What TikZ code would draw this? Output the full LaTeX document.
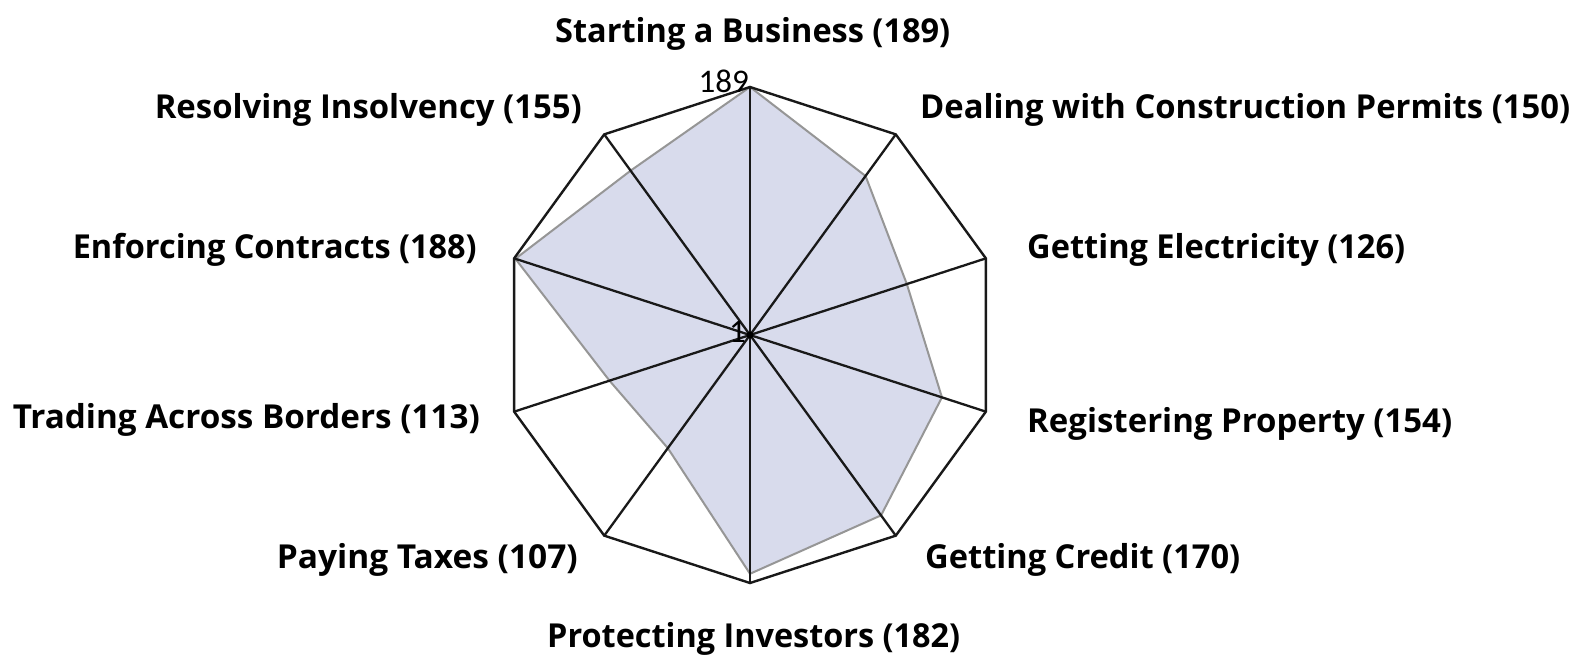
\documentclass[tikz,border=0pt]{standalone}
\usepackage{fontspec}
\usepackage{graphicx}
\newfontfamily\labfont{Open Sans}[UprightFont=* Bold]
\newfontfamily\tickfont{Carlito}
\usetikzlibrary{calc}
\definecolor{datafill}{RGB}{216,219,236}
\definecolor{dataline}{RGB}{150,150,150}
\definecolor{gridline}{RGB}{25,25,25}
\newcommand\fitto[2]{\resizebox{#1pt}{\height}{#2}}
\tikzset{
  lab/.style={inner sep=0pt, font=\labfont\fontsize{33}{38}\selectfont, text=black},
  tick/.style={inner sep=0pt, font=\tickfont\fontsize{33}{36}\selectfont, text=black},
  axis/.style={draw=gridline, line width=2.3pt},
  frame/.style={draw=gridline, line width=2.4pt, line join=miter},
  dataarea/.style={fill=datafill, draw=dataline, line width=2pt, line join=round}
}
\begin{document}
\begin{tikzpicture}[x=1pt,y=-1pt]
\fill[white] (0,0) rectangle (1574,654);
\useasboundingbox (0,0) rectangle (1574,654);
\coordinate (C) at (750,335);
\foreach \k in {0,...,9}
  \coordinate (V\k) at ({750+248*sin(36*\k)},{335-248*cos(36*\k)});
\foreach \v [count=\i from 0] in {189,150,126,154,170,182,107,113,188,155}
  \coordinate (D\i) at ({750+(248/188)*(\v-1)*sin(36*\i)},{335-(248/188)*(\v-1)*cos(36*\i)});
\path[dataarea] (D0) -- (D1) -- (D2) -- (D3) -- (D4) -- (D5) -- (D6) -- (D7) -- (D8) -- (D9) -- cycle;
\foreach \k in {0,...,9} \draw[axis] (C) -- (V\k);
\draw[frame] (V0) -- (V1) -- (V2) -- (V3) -- (V4) -- (V5) -- (V6) -- (V7) -- (V8) -- (V9) -- cycle;
\fill[black] (C) circle (3.5pt);
\node[tick, anchor=base east] (t189) at (749,92) {189};
\node[tick, anchor=east] (t1) at (746,332) {1};
\node[lab, anchor=base west] (L0) at (555,42) {\fitto{395}{Starting a Business (189)}};
\node[lab, anchor=base west] (L1) at (920,118) {\fitto{650}{Dealing with Construction Permits (150)}};
\node[lab, anchor=base west] (L2) at (1027,258) {\fitto{378}{Getting Electricity (126)}};
\node[lab, anchor=base west] (L3) at (1027,432) {\fitto{425}{Registering Property (154)}};
\node[lab, anchor=base west] (L4) at (925,568) {\fitto{315}{Getting Credit (170)}};
\node[lab, anchor=base west] (L5) at (547,647) {\fitto{413}{Protecting Investors (182)}};
\node[lab, anchor=base east] (L6) at (578,568) {\fitto{301}{Paying Taxes (107)}};
\node[lab, anchor=base east] (L7) at (480,428) {\fitto{467}{Trading Across Borders (113)}};
\node[lab, anchor=base east] (L8) at (477,258) {\fitto{404}{Enforcing Contracts (188)}};
\node[lab, anchor=base east] (L9) at (582,118) {\fitto{427}{Resolving Insolvency (155)}};
\end{tikzpicture}
\end{document}
